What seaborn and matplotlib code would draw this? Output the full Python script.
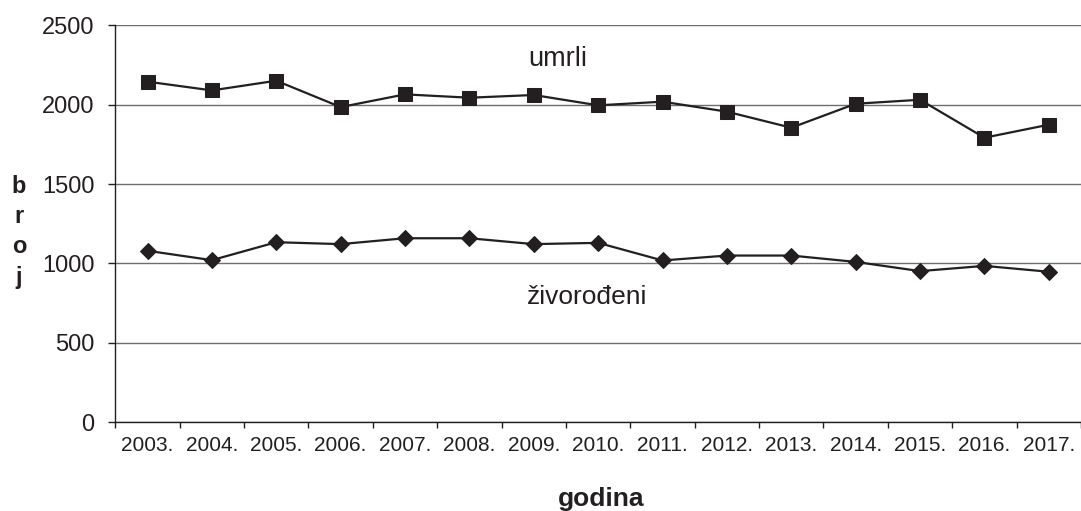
import numpy as np
import pandas as pd
import seaborn as sns
import matplotlib.pyplot as plt

# values
years = ['2003.', '2004.', '2005.', '2006.', '2007.', '2008.', '2009.', '2010.',
         '2011.', '2012.', '2013.', '2014.', '2015.', '2016.', '2017.']
umrli = [2145, 2090, 2151, 1985, 2065, 2044, 2061, 1996, 2019, 1956, 1855, 2006, 2031, 1792, 1874]
zivorodeni = [1080, 1021, 1134, 1122, 1159, 1159, 1122, 1130, 1019, 1050, 1050, 1010, 952, 985, 948]
y_ticks = [0, 500, 1000, 1500, 2000, 2500]

df = pd.DataFrame({'godina': years, 'umrli': umrli, 'živorođeni': zivorodeni})

sns.set_style('white')
plt.rcParams['font.family'] = ['Liberation Sans', 'DejaVu Sans']

ink = '#231f20'

fig = plt.figure(figsize=(10.81, 5.11), dpi=100)
ax = fig.add_axes([0.1067, 0.1736, 0.8933, 0.7769])

# the two series
sns.lineplot(data=df, x='godina', y='umrli', sort=False, ax=ax, color=ink, linewidth=1.6,
             marker='s', markersize=10.5, markeredgecolor=ink, markerfacecolor=ink)
sns.lineplot(data=df, x='godina', y='živorođeni', sort=False, ax=ax, color=ink, linewidth=1.6,
             marker='D', markersize=7.8, markeredgecolor=ink, markerfacecolor=ink)

ax.set_xlim(-0.5, len(years) - 0.5)
ax.set_ylim(0, 2500)
ax.set_yticks(y_ticks)
ax.set_axisbelow(True)
ax.yaxis.grid(True, color='#6d6e71', linewidth=1)
ax.xaxis.grid(False)

for side in ['top', 'right']:
    ax.spines[side].set_visible(False)
for side in ['left', 'bottom']:
    ax.spines[side].set_color(ink)
    ax.spines[side].set_linewidth(1)

# ticks: labels in the middle of each category, tick marks on the boundaries
ax.tick_params(axis='y', left=True, length=5, width=1, pad=10, labelsize=17,
               color=ink, labelcolor=ink)
ax.tick_params(axis='x', which='major', bottom=True, length=0, pad=10, labelsize=15,
               labelcolor=ink)
ax.set_xticks(np.arange(-0.5, len(years), 1), minor=True)
ax.tick_params(axis='x', which='minor', bottom=True, length=4.5, width=1, color=ink)

# series labels in the plot
ax.text(5.92, 2245, 'umrli', fontsize=19.5, color=ink, ha='left', va='baseline')
ax.text(5.89, 745, 'živorođeni', fontsize=19, color=ink, ha='left', va='baseline')

ax.set_xlabel('godina', fontsize=19, fontweight='bold', color=ink)
ax.xaxis.set_label_coords(0.503, -0.163)
ax.set_ylabel('b\nr\no\nj', rotation=0, fontsize=17, fontweight='bold', color=ink,
              linespacing=1.4, ha='center', va='center')
ax.yaxis.set_label_coords(-0.0997, 0.48)

fig.savefig('out.png', dpi=100)
